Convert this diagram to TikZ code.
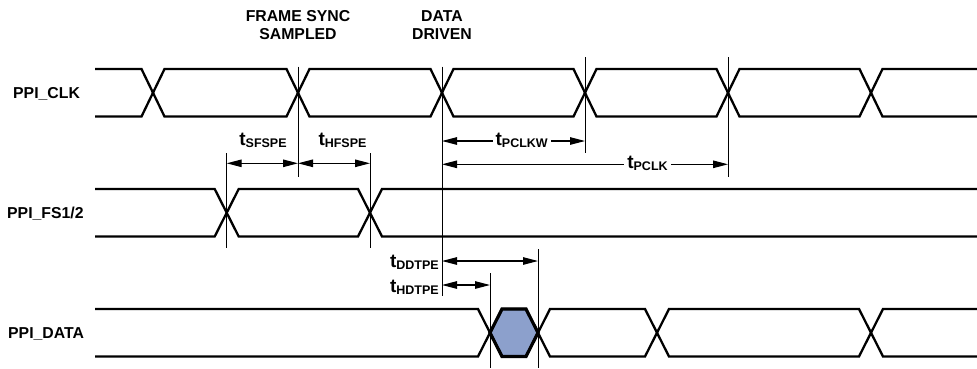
\documentclass[tikz,border=0pt]{standalone}
\usepackage{fontspec}
\setmainfont{Liberation Sans}
\usetikzlibrary{arrows.meta,calc}
\definecolor{hexblue}{RGB}{140,160,204}
\newcommand{\tsub}[1]{{\fontsize{19}{19}\selectfont t}\raisebox{-2.5pt}{\fontsize{12.5}{12.5}\selectfont #1}}
\begin{document}
\begin{tikzpicture}[x=1pt,y=-1pt,
  wave/.style={line width=2.3pt, line join=miter},
  marker/.style={line width=1pt},
  dim/.style={line width=1.1pt, {Triangle[length=15pt,width=7.5pt]}-{Triangle[length=15pt,width=7.5pt]}},
  sig/.style={font=\fontsize{15.8}{17}\selectfont\bfseries, anchor=base west, inner sep=0pt},
  head/.style={font=\fontsize{15.8}{18}\selectfont\bfseries, anchor=north, inner sep=0pt, align=center},
  tlab/.style={font=\bfseries, anchor=base, inner sep=0pt},
  onlab/.style={tlab, fill=white, inner xsep=3pt, inner ysep=0pt}
]
\path[use as bounding box, fill=white] (0,0) rectangle (977,368);

% signal names
\node[sig] (clk) at (13,98) {PPI\_CLK};
\node[sig] (fs) at (7,218) {PPI\_FS1/2};
\node[sig] (data) at (8,338.5) {PPI\_DATA};

% header labels
\node[head] (fss) at (298,10) {FRAME SYNC\\SAMPLED};
\node[head] (dd) at (442,10) {DATA\\DRIVEN};

% PPI_CLK waveform
\draw[wave] (95,69) -- (141.5,69) -- (164.5,116.5) -- (286.5,116.5) -- (309.5,69) -- (430.5,69) -- (453.5,116.5) -- (573.5,116.5) -- (596.5,69) -- (716.5,69) -- (739.5,116.5) -- (859.5,116.5) -- (882.5,69) -- (977,69);
\draw[wave] (95,116.5) -- (141.5,116.5) -- (164.5,69) -- (286.5,69) -- (309.5,116.5) -- (430.5,116.5) -- (453.5,69) -- (573.5,69) -- (596.5,116.5) -- (716.5,116.5) -- (739.5,69) -- (859.5,69) -- (882.5,116.5) -- (977,116.5);

% PPI_FS waveform
\draw[wave] (95,189) -- (214.7,189) -- (238.7,236.5) -- (358,236.5) -- (382,189) -- (977,189);
\draw[wave] (95,236.5) -- (214.7,236.5) -- (238.7,189) -- (358,189) -- (382,236.5) -- (977,236.5);

% PPI_DATA waveform
\filldraw[fill=hexblue, line width=3.2pt, line join=miter] (490,332.75) -- (502,309) -- (526,309) -- (538,332.75) -- (526,356.5) -- (502,356.5) -- cycle;
\draw[wave] (95,309) -- (478,309) -- (502,356.5) -- (526,356.5) -- (550,309) -- (645,309) -- (669,356.5) -- (859,356.5) -- (883,309) -- (977,309);
\draw[wave] (95,356.5) -- (478,356.5) -- (502,309) -- (526,309) -- (550,356.5) -- (645,356.5) -- (669,309) -- (859,309) -- (883,356.5) -- (977,356.5);

% marker lines
\coordinate (fsT) at (298,66.7);  \coordinate (fsB) at (298,176.7);
\coordinate (ddT) at (442,66.7);  \coordinate (ddB) at (442,296);
\coordinate (kwT) at (585,57.3);  \coordinate (kwB) at (585,152.7);
\coordinate (kT)  at (728,57.3);  \coordinate (kB)  at (728,176.7);
\coordinate (sT)  at (226.7,153.3); \coordinate (sB) at (226.7,248.3);
\coordinate (hT)  at (370,153.3); \coordinate (hB)  at (370,248.3);
\coordinate (hdT) at (490,273.3); \coordinate (hdB) at (490,368);
\coordinate (dtT) at (538,249.3); \coordinate (dtB) at (538,368);
\foreach \a/\b in {fsT/fsB,ddT/ddB,kwT/kwB,kT/kB,sT/sB,hT/hB,hdT/hdB,dtT/dtB}
  \draw[marker] (\a) -- (\b);

% dimension rows
\coordinate (ySF) at (0,163.3);
\coordinate (yKW) at (0,141);
\coordinate (yK)  at (0,164.3);
\coordinate (yDD) at (0,261);
\coordinate (yHD) at (0,285);

\draw[dim] (sT |- ySF) -- (fsT |- ySF);
\draw[dim] (fsT |- ySF) -- (hT |- ySF);
\draw[dim] (ddT |- yKW) -- (kwT |- yKW);
\draw[dim] (ddT |- yK) -- (kT |- yK);
\draw[dim] (ddT |- yDD) -- (dtT |- yDD);
\draw[dim] (ddT |- yHD) -- (hdT |- yHD);

% timing labels
\node[tlab] (tsf) at (263,145) {\tsub{SFSPE}};
\node[tlab] (thf) at (342.5,145) {\tsub{HFSPE}};
\node[onlab] (tkw) at (521.7,145) {\tsub{PCLKW}};
\node[onlab] (tk) at (647.5,168) {\tsub{PCLK}};
\node[tlab, anchor=base east] (tdd) at (439,267) {\tsub{DDTPE}};
\node[tlab, anchor=base east] (thd) at (439,292) {\tsub{HDTPE}};
\end{tikzpicture}
\end{document}
